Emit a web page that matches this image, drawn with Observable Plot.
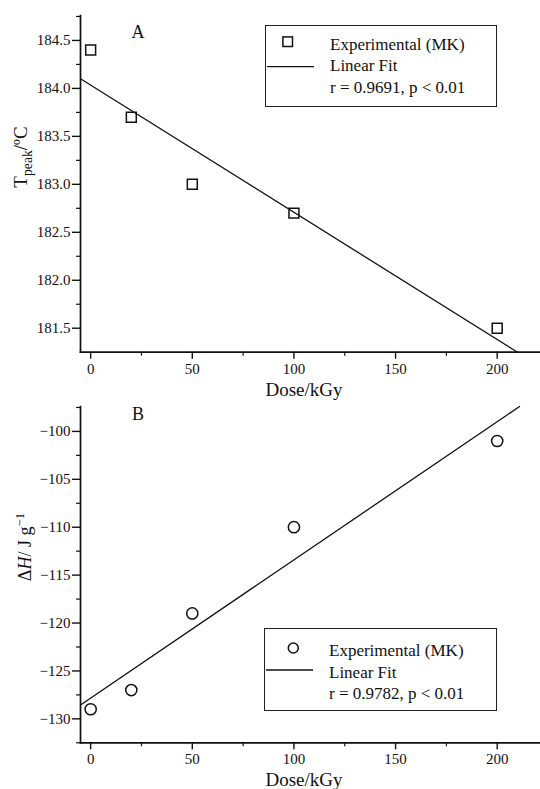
<!DOCTYPE html>
<html><head><meta charset="utf-8">
<script src="https://cdn.jsdelivr.net/npm/d3@7"></script>
<script src="https://cdn.jsdelivr.net/npm/@observablehq/plot@0.6"></script>
<style>
body{margin:0;background:#fff;}
#wrap{position:relative;width:540px;height:789px;font-family:"Liberation Serif","Times New Roman",serif;color:#111;overflow:hidden;}
#wrap svg{position:absolute;left:0;}
.lbl{position:absolute;white-space:nowrap;line-height:1;}
.rot{position:absolute;white-space:nowrap;line-height:1;transform:translate(-50%,-50%) rotate(-90deg);}
.ctr{transform:translate(-50%,-50%);}
.leg{position:absolute;border:1.2px solid #222;box-sizing:border-box;}
sub,sup{font-size:72%;}
</style></head><body><div id="wrap"></div>
<script>
// ---- data ----
const dose = [0, 20, 50, 100, 200];
const tpeak = [184.4, 183.7, 183.0, 182.7, 181.5];
const deltaH = [-129, -127, -119, -110, -101];
const fitDoseA = [-5, 210];
const fitTpeak = [184.1, 181.25];
const fitDoseB = [-5, 211];
const fitDeltaH = [-128.55, -97.4];
const xTicks = [0, 50, 100, 150, 200];
const xMinor = [25, 75, 125, 175];
const yTicksA = [181.5, 182.0, 182.5, 183.0, 183.5, 184.0, 184.5];
const yMinorA = [181.75, 182.25, 182.75, 183.25, 183.75, 184.25, 184.75];
const yTicksB = [-130, -125, -120, -115, -110, -105, -100];
const yMinorB = [-132.5, -127.5, -122.5, -117.5, -112.5, -107.5, -102.5, -97.5];
const legendA = ["Experimental (MK)", "Linear Fit", "r = 0.9691, p < 0.01"];
const legendB = ["Experimental (MK)", "Linear Fit", "r = 0.9782, p < 0.01"];

const font = '"Liberation Serif","Times New Roman",serif';
const ink = "#111";
const wrap = document.getElementById("wrap");

function panel({yVals, fitX, fitY, yDomain, yTicks, yMinor, yFmt, symbol, height, mt, mb}) {
  const pts = dose.map((d, i) => ({x: d, y: yVals[i]}));
  const fit = fitX.map((d, i) => ({x: d, y: fitY[i]}));
  return Plot.plot({
    width: 540, height, marginTop: mt, marginBottom: mb, marginLeft: 80, marginRight: 0,
    style: {fontFamily: font, fontSize: "15px", color: ink, background: "transparent", overflow: "visible"},
    x: {domain: [-5, 221.3]},
    y: {domain: yDomain},
    marks: [
      Plot.axisX({ticks: xTicks, tickSize: 7, tickPadding: 4, strokeWidth: 1.4, fontSize: 15, fontFamily: font, label: null}),
      Plot.axisX({ticks: xMinor, tickSize: 4, strokeWidth: 1.2, text: null, label: null}),
      Plot.axisY({ticks: yTicks, tickSize: 8, tickPadding: 2, strokeWidth: 1.4, fontSize: 15, fontFamily: font, tickFormat: yFmt, label: null}),
      Plot.axisY({ticks: yMinor, tickSize: 4, strokeWidth: 1.2, text: null, label: null}),
      Plot.frame({anchor: "left", stroke: ink, strokeWidth: 1.7}),
      Plot.frame({anchor: "bottom", stroke: ink, strokeWidth: 1.7}),
      Plot.line(fit, {x: "x", y: "y", stroke: ink, strokeWidth: 1.3}),
      Plot.dot(pts, {x: "x", y: "y", symbol, r: 5.6, stroke: ink, strokeWidth: 1.5, fill: "none"})
    ]
  });
}

const svgA = panel({yVals: tpeak, fitX: fitDoseA, fitY: fitTpeak, yDomain: [181.25, 184.76],
  yTicks: yTicksA, yMinor: yMinorA, yFmt: d3.format(".1f"), symbol: "square", height: 395, mt: 15, mb: 43.3});
svgA.style.top = "0px";
wrap.appendChild(svgA);

const svgB = panel({yVals: deltaH, fitX: fitDoseB, fitY: fitDeltaH, yDomain: [-132.5, -97.4],
  yTicks: yTicksB, yMinor: yMinorB, yFmt: d3.format("d"), symbol: "circle", height: 394, mt: 11, mb: 46.7});
svgB.style.top = "395px";
wrap.appendChild(svgB);

function addHTML(html, cls, x, y, size) {
  const d = document.createElement("div");
  d.className = cls;
  d.style.left = x + "px"; d.style.top = y + "px"; d.style.fontSize = size + "px";
  d.innerHTML = html;
  wrap.appendChild(d);
  return d;
}
addHTML("A", "lbl ctr", 138, 32, 18);
addHTML("B", "lbl ctr", 138, 414, 18);
addHTML("Dose/kGy", "lbl ctr", 304, 389, 19);
addHTML("Dose/kGy", "lbl ctr", 304, 779, 19);
addHTML("T<sub>peak</sub>/ºC", "rot", 23, 157, 19);
addHTML("Δ<i>H</i>/ J g<sup>−1</sup>", "rot", 24, 547, 18);

function legend(lines, symbol, left, top, w, h, symX, symY, lineY) {
  const box = document.createElement("div");
  box.className = "leg";
  Object.assign(box.style, {left: left + "px", top: top + "px", width: w + "px", height: h + "px"});
  const s = d3.create("svg").attr("width", w).attr("height", h).style("position", "absolute").style("left", "-1px").style("top", "-1px");
  if (symbol === "square") {
    s.append("rect").attr("x", symX - 4.8).attr("y", symY - 4.8).attr("width", 9.6).attr("height", 9.6)
      .attr("fill", "none").attr("stroke", ink).attr("stroke-width", 1.5);
  } else {
    s.append("circle").attr("cx", symX).attr("cy", symY).attr("r", 5).attr("fill", "none").attr("stroke", ink).attr("stroke-width", 1.5);
  }
  s.append("line").attr("x1", 2).attr("x2", 49).attr("y1", lineY).attr("y2", lineY).attr("stroke", ink).attr("stroke-width", 1.3);
  lines.forEach((t, i) => {
    s.append("text").attr("x", 65).attr("y", symY + 2 + i * 21.6).attr("dy", "0.35em")
      .attr("font-family", font).attr("font-size", 17).attr("fill", ink).text(t);
  });
  box.appendChild(s.node());
  wrap.appendChild(box);
}
legend(legendA, "square", 265, 25, 232, 82, 22.7, 16.7, 41.7);
legend(legendB, "circle", 264, 628, 233, 83, 29.3, 20, 42);
</script></body></html>
